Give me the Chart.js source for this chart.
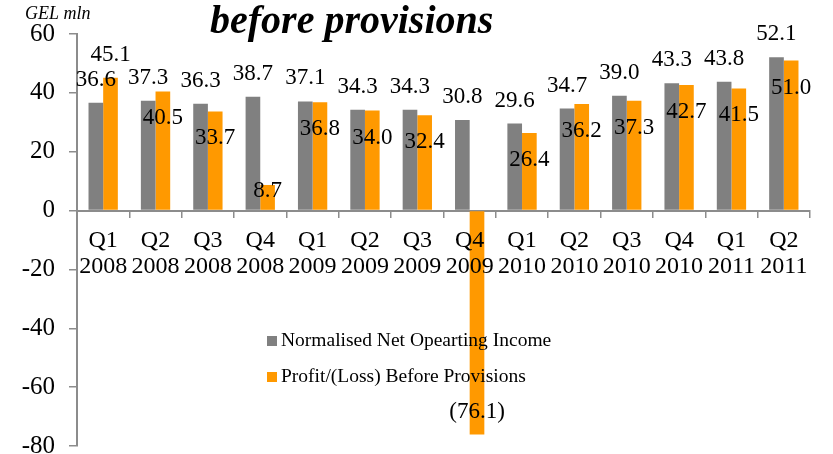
<!DOCTYPE html>
<html>
<head>
<meta charset="utf-8">
<script src="https://cdn.jsdelivr.net/npm/chart.js@4/dist/chart.umd.min.js"></script>
<style>
  html, body { margin: 0; padding: 0; background: #fff; }
  #wrap { width: 833px; height: 454px; position: relative; }
</style>
</head>
<body>
<div id="wrap"><canvas id="chart" width="833" height="454"></canvas></div>
<script>
// quarters on the x axis (two lines each)
const quarters = [
  ["Q1", "2008"], ["Q2", "2008"], ["Q3", "2008"], ["Q4", "2008"],
  ["Q1", "2009"], ["Q2", "2009"], ["Q3", "2009"], ["Q4", "2009"],
  ["Q1", "2010"], ["Q2", "2010"], ["Q3", "2010"], ["Q4", "2010"],
  ["Q1", "2011"], ["Q2", "2011"]
];
const netOperatingIncome = [36.6, 37.3, 36.3, 38.7, 37.1, 34.3, 34.3, 30.8, 29.6, 34.7, 39.0, 43.3, 43.8, 52.1];
const profitBeforeProvisions = [45.1, 40.5, 33.7, 8.7, 36.8, 34.0, 32.4, -76.1, 26.4, 36.2, 37.3, 42.7, 41.5, 51.0];
const seriesNames = ["Normalised Net Opearting Income", "Profit/(Loss) Before Provisions"];
const yMin = -80;
const yMax = 60;
const yStep = 20;

const SERIF = '"Liberation Serif", "Times New Roman", serif';
const GREY = "#808080";
const ORANGE = "#ff9900";
const AXIS = "#8c8c8c";

function fmt(v) {
  return v < 0 ? "(" + Math.abs(v).toFixed(1) + ")" : v.toFixed(1);
}

// value labels: grey above the bar, orange inside its end
const valueLabels = {
  id: "valueLabels",
  afterDatasetsDraw(chart) {
    const ctx = chart.ctx;
    ctx.save();
    ctx.font = "23px " + SERIF;
    ctx.fillStyle = "#000";
    ctx.textAlign = "center";
    ctx.textBaseline = "middle";
    chart.data.datasets.forEach((ds, di) => {
      chart.getDatasetMeta(di).data.forEach((bar, i) => {
        const v = ds.data[i];
        const h = Math.abs(bar.base - bar.y);
        let y;
        if (di === 0 || v < 0) {
          y = bar.y - 23;
        } else if (bar.y < chart.getDatasetMeta(0).data[i].y - 15) {
          // clearly taller than the grey bar: label goes above
          y = bar.y - 23;
        } else {
          y = bar.y + (h < 40 ? 6 : 27);
        }
        ctx.fillText(fmt(v), bar.x, y);
      });
    });
    ctx.restore();
  }
};

// title, unit and the legend inside the plot
const decorations = {
  id: "decorations",
  afterDraw(chart) {
    const ctx = chart.ctx;
    ctx.save();
    ctx.fillStyle = "#000";
    ctx.textBaseline = "alphabetic";
    ctx.textAlign = "left";
    ctx.font = "italic bold 40px " + SERIF;
    ctx.fillText("before provisions", 210, 33);
    ctx.font = "italic 18px " + SERIF;
    ctx.fillText("GEL mln", 25, 19);

    ctx.font = "19.5px " + SERIF;
    ctx.textBaseline = "middle";
    chart.data.datasets.forEach((ds, di) => {
      const cy = 341 + di * 36;
      ctx.fillStyle = ds.backgroundColor;
      ctx.fillRect(267, cy - 5, 10, 10);
      ctx.fillStyle = "#000";
      ctx.fillText(ds.label, 281, cy);
    });
    ctx.restore();
  }
};

new Chart(document.getElementById("chart"), {
  type: "bar",
  data: {
    labels: quarters,
    datasets: [
      { label: seriesNames[0], data: netOperatingIncome, backgroundColor: GREY },
      { label: seriesNames[1], data: profitBeforeProvisions, backgroundColor: ORANGE }
    ]
  },
  options: {
    responsive: false,
    animation: false,
    layout: { padding: { top: 34, right: 23, bottom: 8, left: 0 } },
    datasets: { bar: { categoryPercentage: 0.56, barPercentage: 1 } },
    scales: {
      x: {
        position: { y: 0 },
        grid: { offset: true, drawOnChartArea: false, drawTicks: true, tickLength: 6, tickColor: AXIS, lineWidth: 1.5 },
        border: { color: AXIS, width: 2 },
        ticks: { z: 1, color: "#000", font: { family: SERIF, size: 24, lineHeight: 1.1 }, padding: 11, maxRotation: 0, autoSkip: false },
        afterFit(scale) {
          scale.height = 0;
          scale.paddingLeft = 0;
          scale.paddingRight = 0;
        }
      },
      y: {
        min: yMin,
        max: yMax,
        ticks: { stepSize: yStep, color: "#000", font: { family: SERIF, size: 25 }, padding: 14 },
        grid: { drawOnChartArea: false, drawTicks: true, tickLength: 8, tickColor: AXIS, lineWidth: 1.5 },
        border: { color: AXIS, width: 2 },
        afterFit(scale) {
          scale.width = 77;
          scale.paddingTop = 0;
          scale.paddingBottom = 0;
        }
      }
    },
    plugins: {
      legend: { display: false },
      tooltip: { enabled: false }
    }
  },
  plugins: [valueLabels, decorations]
});
</script>
</body>
</html>
